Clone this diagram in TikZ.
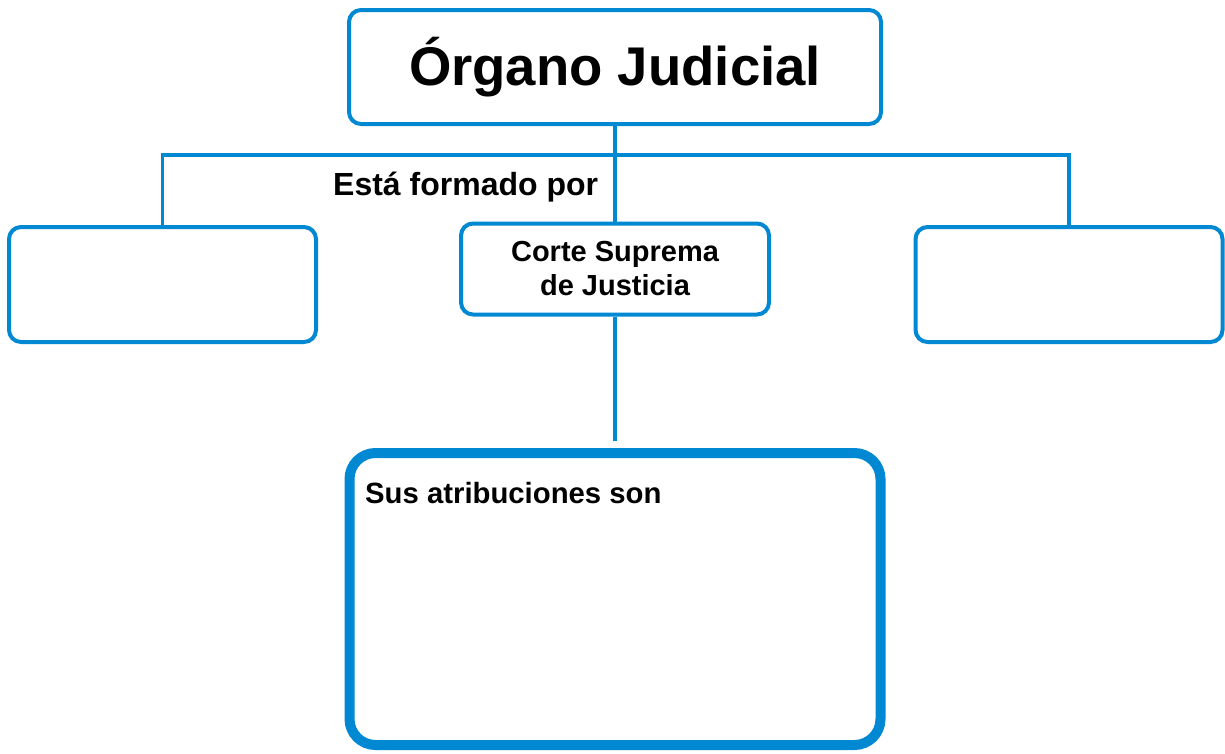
\documentclass[tikz,border=0pt]{standalone}
\usepackage{fontspec}
\setmainfont{Liberation Sans}
\definecolor{ojblue}{RGB}{0,136,210}
\usetikzlibrary{positioning}

\begin{document}
\begin{tikzpicture}[x=1pt, y=-1pt, every node/.style={font=\bfseries},
    caja/.style={draw=ojblue, line width=4pt, rounded corners=12pt, fill=white, inner sep=0pt},
    enlace/.style={draw=ojblue, line width=3.5pt}]
    \useasboundingbox (0,0) rectangle (1225,753);

    % Boxes
    \node[caja, minimum width=532pt, minimum height=114pt, font=\bfseries\fontsize{54.5}{60}\selectfont] (organo) at (615,67) {Órgano Judicial};
    \node[caja, minimum width=307pt, minimum height=115pt] (izq) at (162.5,284.5) {};
    \node[caja, minimum width=308pt, minimum height=91pt, align=center, font=\bfseries\fontsize{29}{34}\selectfont] (corte) at (615,269) {Corte Suprema\\de Justicia};
    \node[caja, minimum width=307pt, minimum height=115pt] (der) at (1069,284.5) {};
    \node[caja, line width=10pt, rounded corners=26pt, minimum width=531pt, minimum height=292pt] (atrib) at (615,599) {};

    % Texts
    \node[anchor=base west, inner sep=0pt, font=\bfseries\fontsize{32}{36}\selectfont] (forma) at (333,195) {Está formado por};
    \node[anchor=base west, inner sep=0pt, font=\bfseries\fontsize{29.3}{34}\selectfont] (sus) at (365,503) {Sus atribuciones son};

    % Connectors
    \coordinate (rama) at (615,155);
    \draw[enlace] (organo.south) -- (corte.north);
    \draw[enlace] (izq.north) |- (rama) -| (der.north);
    \draw[enlace, shorten >=7pt] (corte.south) -- (atrib.north);
\end{tikzpicture}
\end{document}
